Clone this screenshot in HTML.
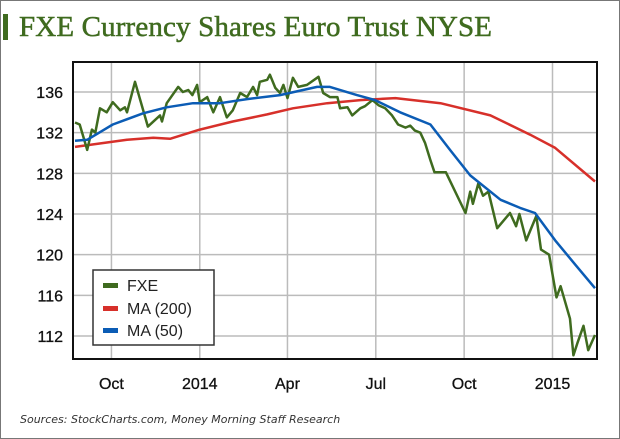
<!DOCTYPE html>
<html><head><meta charset="utf-8"><style>
body{margin:0;background:#fff;}
svg{display:block;font-family:"Liberation Sans",sans-serif;}
</style></head><body>
<svg id="c" width="620" height="439" viewBox="0 0 620 439">
<rect x="0.5" y="0.5" width="619" height="438" fill="#fff" stroke="#777"/>
<rect x="3" y="14" width="5" height="26" fill="#3f6b1f"/>
<text x="19" y="36" font-family="Liberation Serif,serif" font-size="29" fill="#3f6b1f" stroke="#3f6b1f" stroke-width="0.5" textLength="473">FXE Currency Shares Euro Trust NYSE</text>
<g id="grid"></g>
<g id="series"></g>
<rect x="73" y="62" width="524" height="297" fill="none" stroke="#111" stroke-width="2"/>
<g id="axes"></g>
<g>
<rect x="93" y="270" width="121" height="75" fill="#fff" stroke="#333" stroke-width="1.5"/>
<rect x="103" y="283" width="15" height="5" fill="#3f6b1f"/>
<text x="127" y="291" font-size="16" fill="#222">FXE</text>
<rect x="103" y="306" width="15" height="5" fill="#d7302a"/>
<text x="127" y="314" font-size="16" fill="#222">MA (200)</text>
<rect x="103" y="328" width="15" height="5" fill="#0b5cb5"/>
<text x="127" y="336" font-size="16" fill="#222">MA (50)</text>
</g>
<text x="20" y="423" font-family="DejaVu Sans,sans-serif" font-size="11" font-style="italic" fill="#333">Sources: StockCharts.com, Money Morning Staff Research</text>
</svg>
<script>
const yTicks=[112,116,120,124,128,132,136];
const xTickWeeks=[5.7,18.8,31.8,44.9,58.0,71.1];
const xTickLabels=["Oct","2014","Apr","Jul","Oct","2015"];
const fxeWeeks=[0.3,1.0,2.1,2.8,3.3,4.0,5.0,5.9,7.0,7.7,8.0,9.2,11.1,12.9,13.2,13.9,15.6,16.3,17.1,17.7,18.4,18.8,19.9,20.8,21.8,22.8,23.7,24.8,25.8,26.7,27.3,27.7,28.8,29.2,30.0,30.7,31.2,31.8,32.6,33.4,34.7,36.4,37.1,38.1,39.2,39.6,40.7,41.4,42.6,43.3,44.4,45.3,46.3,47.3,48.2,49.3,50.0,50.7,51.5,52.2,53.0,53.6,55.3,58.2,58.9,59.3,60.1,60.8,61.6,62.9,64.8,65.7,66.2,67.2,68.7,69.4,70.6,71.7,72.3,73.7,74.2,74.8,75.7,76.4,77.4];
const fxeValues=[133.0,132.8,130.3,132.3,132.0,134.4,134.0,135.0,134.2,134.5,134.0,137.0,132.6,133.7,133.1,134.9,136.5,136.0,136.2,135.7,136.7,135.0,135.5,134.0,135.5,133.5,134.2,135.9,135.5,136.5,135.7,137.0,137.2,137.7,136.4,135.9,136.7,135.4,137.4,136.5,136.7,137.5,135.9,135.5,135.5,134.4,134.5,133.7,134.4,134.6,135.2,134.7,134.4,133.7,132.8,132.5,132.7,132.2,132.0,131.0,129.3,128.1,128.1,124.1,126.2,125.0,127.0,125.8,126.2,122.6,124.1,122.8,124.0,121.4,123.8,120.5,120.0,115.8,116.9,113.7,110.1,111.3,113.0,110.6,112.1];
const ma50Weeks=[0.3,2.1,5.9,10.4,13.9,17.8,21.8,25.8,30.7,34.1,36.2,38.1,42.1,44.8,48.5,53.0,55.9,58.9,63.4,66.3,68.5,71.5,74.5,77.4];
const ma50Values=[131.2,131.3,132.8,133.9,134.5,134.9,134.9,135.3,135.7,136.2,136.5,136.5,135.7,135.2,134.0,132.8,130.3,127.8,125.4,124.6,124.1,121.4,119.0,116.7];
const ma200Weeks=[0.3,8.0,11.9,14.4,18.8,23.7,28.8,32.6,37.7,42.6,47.8,54.5,61.9,67.8,71.5,77.4];
const ma200Values=[130.6,131.3,131.5,131.4,132.3,133.1,133.8,134.4,134.9,135.2,135.4,134.9,133.7,131.8,130.5,127.2];

const NS="http://www.w3.org/2000/svg";
const L=73,R=597,T=62,B=359;
const xs=w=>L+(w-0)*(R-L)/77.7;
const ys=v=>92+(136-v)*(336-92)/24;
function mk(tag,attrs,parent){const e=document.createElementNS(NS,tag);for(const k in attrs)e.setAttribute(k,attrs[k]);parent.appendChild(e);return e;}
const grid=document.getElementById('grid'),axes=document.getElementById('axes'),series=document.getElementById('series');
yTicks.forEach(v=>{
 const g=mk('line',{x1:L,x2:R,y1:ys(v),y2:ys(v),stroke:'#bbb','stroke-width':1.5},grid);
 
 
 const t=mk('text',{x:63,y:ys(v)+6,'text-anchor':'end','font-size':16,fill:'#111',stroke:'#111','stroke-width':0.3},axes);
 t.textContent=v;
 
 
});
xTickWeeks.forEach((w,i)=>{
 const g=mk('line',{x1:xs(w),x2:xs(w),y1:T,y2:B,stroke:'#bbb','stroke-width':1.5},grid);
 
 
 const t=mk('text',{x:xs(w),y:389,'text-anchor':'middle','font-size':16,fill:'#111',stroke:'#111','stroke-width':0.3},axes);
 t.textContent=xTickLabels[i];
 
 
});
function line(ws,vs,color,name){
 const d=ws.map((w,i)=>(i?'L':'M')+xs(w).toFixed(1)+' '+ys(vs[i]).toFixed(1)).join(' ');
 const p=mk('path',{d:d,fill:'none',stroke:color,'stroke-width':2.5,'stroke-linejoin':'round'},series);
 
 
}
line(ma200Weeks,ma200Values,'#d7302a','ma200-line');
line(fxeWeeks,fxeValues,'#3f6b1f','fxe-line');
line(ma50Weeks,ma50Values,'#0b5cb5','ma50-line');
</script>
</body></html>
